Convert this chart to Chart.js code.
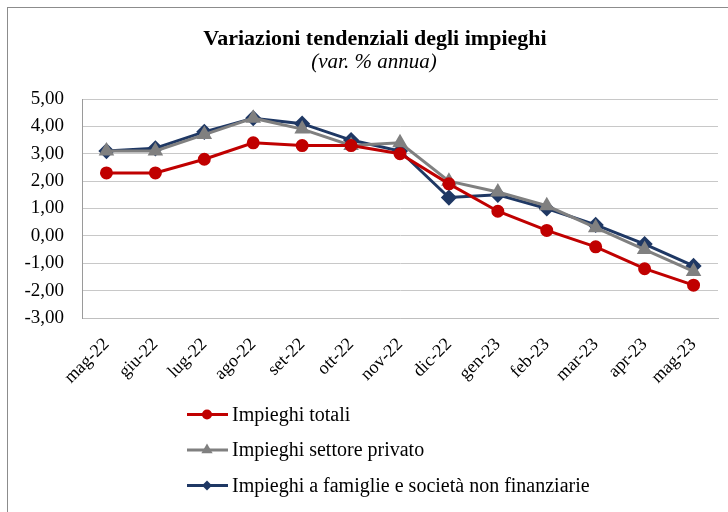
<!DOCTYPE html>
<html>
<head>
<meta charset="utf-8">
<script src="https://cdn.jsdelivr.net/npm/chart.js@4"></script>
<style>
  html, body { margin:0; padding:0; background:#fff; overflow:hidden; }
  #wrap { width:728px; height:512px; position:relative; }
</style>
</head>
<body>
<div id="wrap"><canvas id="chart" width="728" height="512"></canvas></div>
<script>
const mesi = ['mag-22','giu-22','lug-22','ago-22','set-22','ott-22','nov-22','dic-22','gen-23','feb-23','mar-23','apr-23','mag-23'];
const impieghiTotali   = [2.3, 2.3, 2.8, 3.4, 3.3, 3.3, 3.0, 1.9, 0.9, 0.2, -0.4, -1.2, -1.8];
const settorePrivato   = [3.1, 3.1, 3.7, 4.3, 3.9, 3.3, 3.4, 2.0, 1.6, 1.1, 0.3, -0.5, -1.3];
const famiglieSocieta  = [3.1, 3.2, 3.8, 4.3, 4.1, 3.5, 3.1, 1.4, 1.5, 1.0, 0.4, -0.3, -1.1];
const nomiSerie = ['Impieghi totali', 'Impieghi settore privato', 'Impieghi a famiglie e società non finanziarie'];
const titolo = 'Variazioni tendenziali degli impieghi';
const sottotitolo = '(var. % annua)';

const serif = "'Liberation Serif', 'Times New Roman', serif";
const RED = '#c00000', GRAY = '#808080', NAVY = '#1f3864';

function serie(label, data, color, shape, radius){
  return { label, data, borderColor:color, backgroundColor:color, pointStyle:shape,
           pointRadius:radius, pointHoverRadius:radius, borderWidth:3, tension:0 };
}

// cornice esterna, titoli e legenda verticale
const decor = {
  id:'decor',
  beforeDraw(chart){
    const c = chart.ctx;
    c.save();
    c.fillStyle = '#fff';
    c.fillRect(0, 0, chart.width, chart.height);
    c.strokeStyle = '#8c8c8c';
    c.lineWidth = 1;
    c.strokeRect(7.5, 7.5, 760, 540);
    c.restore();
  },
  afterDraw(chart){
    const c = chart.ctx;
    c.save();
    c.fillStyle = '#000';
    c.textAlign = 'center';
    c.textBaseline = 'alphabetic';
    c.font = 'bold 22px ' + serif;
    c.fillText(titolo, 375, 45);
    c.font = 'italic 21px ' + serif;
    c.fillText(sottotitolo, 374, 68);

    c.textAlign = 'left';
    c.font = '20px ' + serif;
    c.textBaseline = 'middle';
    chart.data.datasets.forEach((ds, i) => {
      const y = 414.5 + i * 35.5, x = 187;
      c.strokeStyle = ds.borderColor;
      c.lineWidth = 3;
      c.beginPath(); c.moveTo(x, y); c.lineTo(x + 41, y); c.stroke();
      c.fillStyle = ds.borderColor;
      const r = ds.pointStyle === 'triangle' ? 6.5 : 5;
      Chart.helpers.drawPoint(c, { pointStyle: ds.pointStyle, radius: r, rotation: 0, borderWidth: 0 }, x + 20, y);
      c.fillStyle = '#000';
      c.fillText(ds.label, x + 45, y + 1);
    });
    c.restore();
  }
};

new Chart(document.getElementById('chart').getContext('2d'), {
  type:'line',
  data:{
    labels: mesi,
    datasets:[
      serie(nomiSerie[0], impieghiTotali, RED, 'circle', 5),
      serie(nomiSerie[1], settorePrivato, GRAY, 'triangle', 6),
      serie(nomiSerie[2], famiglieSocieta, NAVY, 'rectRot', 6)
    ]
  },
  options:{
    responsive:false, animation:false,
    layout:{ padding:{ left:8, right:10, top:99, bottom:114 } },
    plugins:{
      legend:{ display:false },
      tooltip:{ enabled:false },
      title:{ display:false },
      subtitle:{ display:false }
    },
    scales:{
      x:{
        offset:true,
        grid:{ display:false, drawTicks:false },
        border:{ color:'#bfbfbf' },
        ticks:{ color:'#000', font:{ family:serif, size:18 }, maxRotation:45, minRotation:45, padding:16 },
        afterFit(s){ s.height = 80; }
      },
      y:{
        min:-3, max:5,
        grid:{ color:'#c8c8c8', drawTicks:false },
        border:{ color:'#9a9a9a', width:1 },
        ticks:{ stepSize:1, color:'#000', font:{ family:serif, size:19 }, padding:18,
                callback:v => v.toFixed(2).replace('.', ',') },
        afterFit(s){ s.width = 74; }
      }
    }
  },
  plugins:[decor]
});
</script>
</body>
</html>
